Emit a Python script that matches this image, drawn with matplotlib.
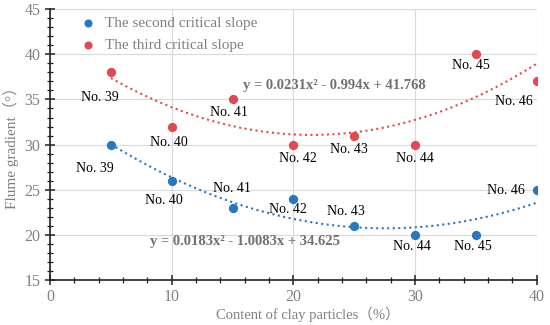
import numpy as np
import matplotlib
matplotlib.use("Agg")
import matplotlib.pyplot as plt
from matplotlib.ticker import MultipleLocator

# data
clay = [5, 10, 15, 20, 25, 30, 35, 40]
second_slope = [30, 26, 23, 24, 21, 20, 20, 25]
third_slope = [38, 32, 35, 30, 31, 30, 40, 37]
sample_names = ["No. 39", "No. 40", "No. 41", "No. 42", "No. 43", "No. 44", "No. 45", "No. 46"]

# trend line coefficients as printed on the chart (a, b, c)
second_fit = [0.0183, -1.0083, 34.625]
third_fit = [0.0231, -0.994, 41.768]

# label offsets in pixels (dx, dy)
second_offsets = [(-16, -24), (-8, -20), (-1, 19), (-5, -11), (-8, 14), (-3, -12), (-3, -12), (-31, -1)]
third_offsets = [(-11, -25), (-3, -16), (-4, -13), (5, -14), (-5, -14), (0, -14), (-5, -11), (-23, -20)]

blue = "#2878C0"
red = "#E04B4F"
gray = "#707070"
serif = ["Liberation Serif", "Noto Sans CJK SC"]
plt.rcParams["font.family"] = serif

fig = plt.figure(figsize=(5.5, 3.25), dpi=100)
ax = fig.add_axes([0.091, 0.138, 0.885, 0.834])

xs = np.linspace(5, 40, 200)
ax.plot(xs, np.polyval(second_fit, xs), ls=":", color=blue, lw=1.5, zorder=2)
ax.plot(xs, np.polyval(third_fit, xs), ls=":", color=red, lw=1.5, zorder=2)

ax.scatter(clay, second_slope, s=32, color=blue, zorder=3, label="The second critical slope")
ax.scatter(clay, third_slope, s=32, color=red, zorder=3, label="The third critical slope")

for x, y, name, off in zip(clay, second_slope, sample_names, second_offsets):
    ax.annotate(name, (x, y), xytext=off, textcoords="offset pixels",
                ha="center", va="center", fontsize=10, color="black")
for x, y, name, off in zip(clay, third_slope, sample_names, third_offsets):
    ax.annotate(name, (x, y), xytext=off, textcoords="offset pixels",
                ha="center", va="center", fontsize=10, color="black")

ax.text(15.85, 36.5, "y = 0.0231x² - 0.994x + 41.768", fontsize=10.5, fontweight="bold",
        color=gray, va="center", ha="left")
ax.text(8.2, 19.3, "y = 0.0183x² - 1.0083x + 34.625", fontsize=10.5, fontweight="bold",
        color=gray, va="center", ha="left")

ax.set_xlim(0, 40)
ax.set_ylim(15, 45)
ax.xaxis.set_major_locator(MultipleLocator(10))
ax.xaxis.set_minor_locator(MultipleLocator(2))
ax.yaxis.set_major_locator(MultipleLocator(5))
ax.yaxis.set_minor_locator(MultipleLocator(1))
ax.grid(True, which="major", color="#D9D9D9", lw=0.8, zorder=0)
ax.set_axisbelow(True)

for side in ["top", "right"]:
    ax.spines[side].set_visible(False)
for side in ["left", "bottom"]:
    ax.spines[side].set_color("#222222")
    ax.spines[side].set_linewidth(1.2)

ax.tick_params(which="major", direction="inout", length=7, width=1.1, color="#222222",
               labelsize=11.5, labelcolor="#808080")
ax.tick_params(which="minor", direction="inout", length=4, width=0.9, color="#222222")
ax.tick_params(axis="x", pad=3)

ax.set_xlabel("Content of clay particles（%）", fontsize=10.5, color="#808080")
ax.xaxis.set_label_coords(0.53, -0.097)
ax.set_ylabel("Flume gradient（°）", fontsize=11, color="#808080", labelpad=4)

leg = ax.legend(loc="upper left", bbox_to_anchor=(0.035, 0.995), frameon=False, fontsize=11,
                handletextpad=0.05, markerscale=0.85, labelspacing=0.55, borderaxespad=0)
for t in leg.get_texts():
    t.set_color("#808080")

fig.savefig("out.png", dpi=100)
